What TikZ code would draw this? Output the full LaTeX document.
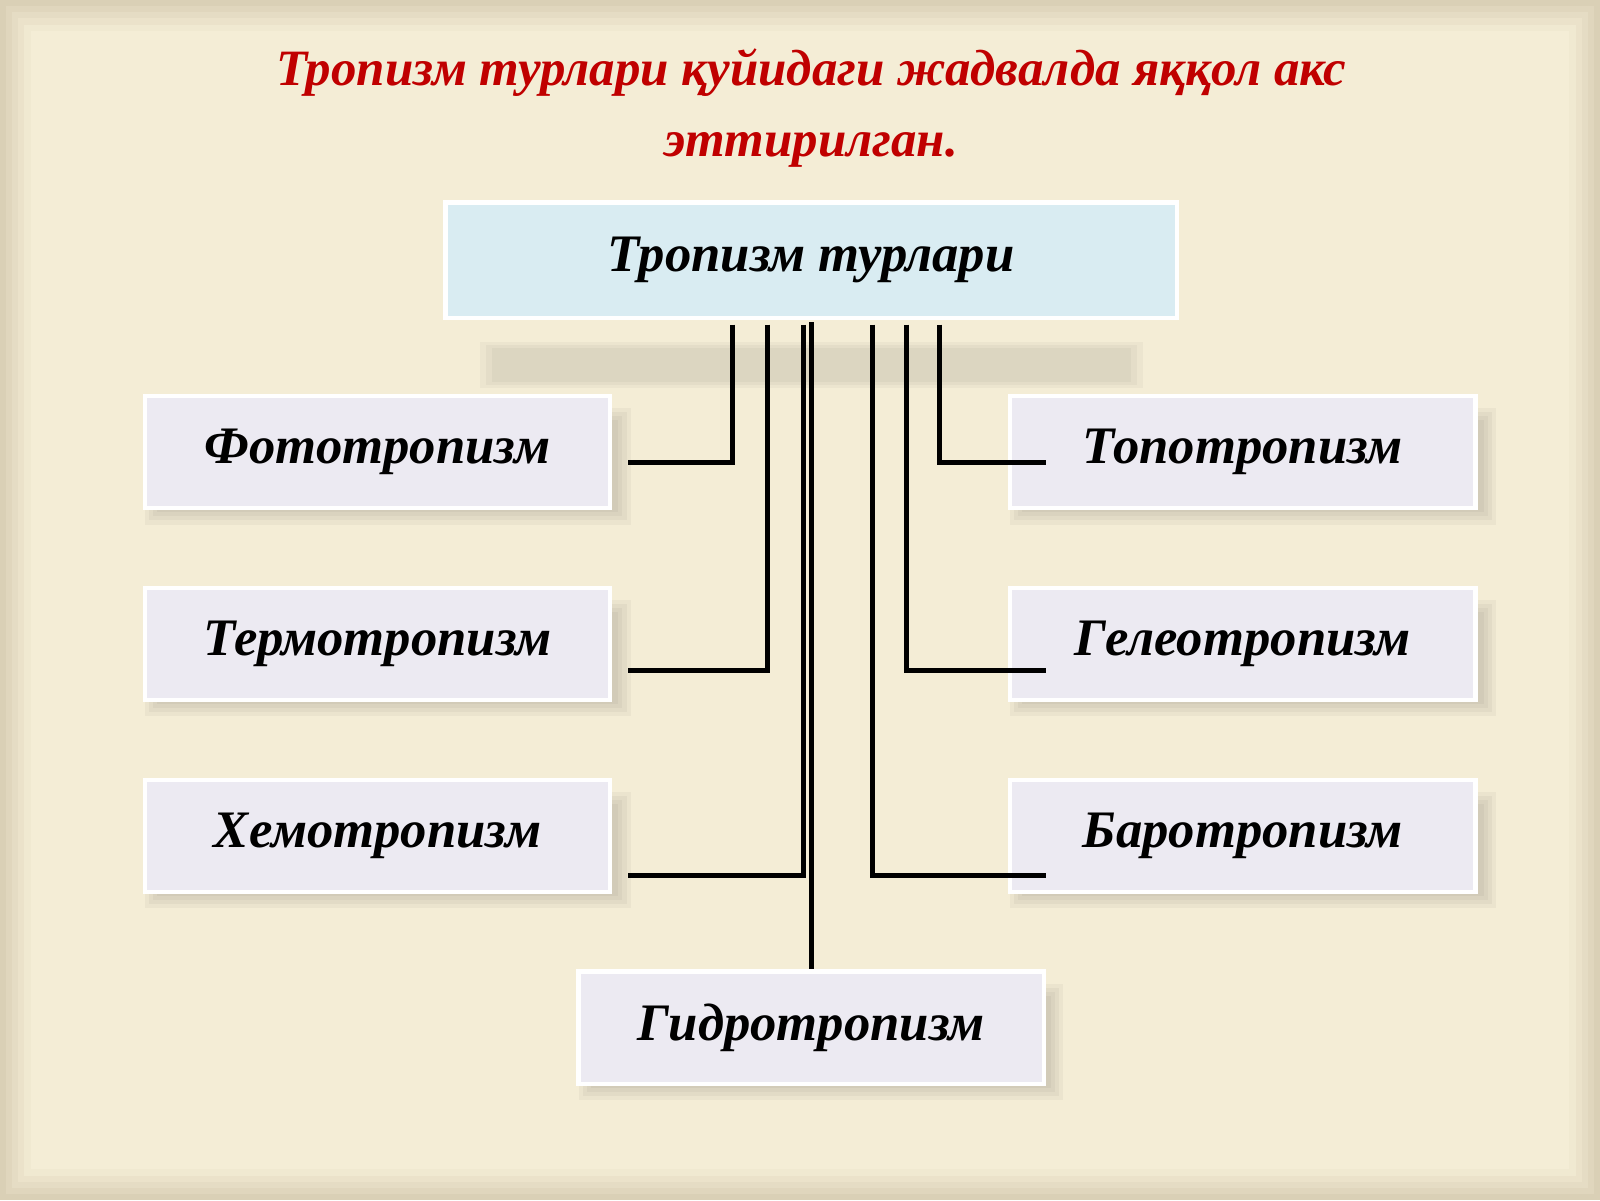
\documentclass[tikz,border=0pt]{standalone}
\usepackage{fontspec}
\setmainfont{Liberation Serif}
\usetikzlibrary{positioning}
\definecolor{bgpaper}{HTML}{F4EDD6}
\definecolor{bgedge}{HTML}{CFC3A8}
\definecolor{titlered}{HTML}{C00000}
\definecolor{topfill}{HTML}{D9ECF2}
\definecolor{boxfill}{HTML}{ECEAF2}
\begin{document}
\begin{tikzpicture}[x=0.010204cm, y=-0.010204cm,
        box_style/.style={draw=white, line width=1.2pt, fill=boxfill, minimum width=456*0.010204cm,
          minimum height=110*0.010204cm, inner sep=0pt, font=\fontsize{15}{17}\selectfont\bfseries\itshape},
        top_style/.style={box_style, fill=topfill, minimum width=717*0.010204cm, minimum height=113*0.010204cm},
        link_style/.style={draw=black, line width=1.4pt}]
        % background
        \fill[bgedge] (0,0) rectangle (1568,1176);
        \foreach \i/\c in {0/30,6/45,12/60,18/75,24/90,30/100}
          \fill[bgpaper!\c!bgedge] (\i,\i) rectangle (1568-\i,1176-\i);
        % title
        \node[text=titlered, font=\fontsize{14.5}{20}\selectfont\bfseries\itshape, align=center] (title) at (795,106)
          {Тропизм турлари қуйидаги жадвалда  яққол акс\\эттирилган.};
        % shadows
        \foreach \x/\y/\w in {142/388/456, 142/576/456, 142/764/456, 990/388/456, 990/576/456, 990/764/456, 567/952/455}
          \foreach \s in {0,4,8,12}
            \fill[black, opacity=0.035] (\x+\s,\y+12+\s) rectangle (\x+\w+20-\s,\y+126-\s);
        \foreach \s in {0,6,12}
          \fill[black, opacity=0.03] (470+\s,335+\s/2) rectangle (1120-\s,380-\s/2);
        % boxes
        \node[top_style] (top) at (795,255) {\raisebox{-7pt}{Тропизм турлари}};
        \node[box_style] (foto) at (370,443) {\raisebox{-7pt}{Фототропизм}};
        \node[box_style] (termo) at (370,631) {\raisebox{-7pt}{Термотропизм}};
        \node[box_style] (hemo) at (370,819) {\raisebox{-7pt}{Хемотропизм}};
        \node[box_style] (topo) at (1218,443) {\raisebox{-7pt}{Топотропизм}};
        \node[box_style] (geleo) at (1218,631) {\raisebox{-7pt}{Гелеотропизм}};
        \node[box_style] (baro) at (1218,819) {\raisebox{-7pt}{Баротропизм}};
        \node[box_style] (gidro) at (795,1007) {\raisebox{-7pt}{Гидротропизм}};
        % free ends of links
        \coordinate (fotoEnd) at (615,453);
        \coordinate (termoEnd) at (615,657);
        \coordinate (hemoEnd) at (615,858);
        \coordinate (topoEnd) at (1025,453);
        \coordinate (geleoEnd) at (1025,657);
        \coordinate (baroEnd) at (1025,858);
        % links
        \draw[link_style] (718,318) |- (fotoEnd);
        \draw[link_style] (752,318) |- (termoEnd);
        \draw[link_style] (787,318) |- (hemoEnd);
        \draw[link_style] (921,318) |- (topoEnd);
        \draw[link_style] (888,318) |- (geleoEnd);
        \draw[link_style] (855,318) |- (baroEnd);
        \draw[link_style] (top.south -| gidro.north) ++(0,2) -- (gidro.north);
\end{tikzpicture}
\end{document}
